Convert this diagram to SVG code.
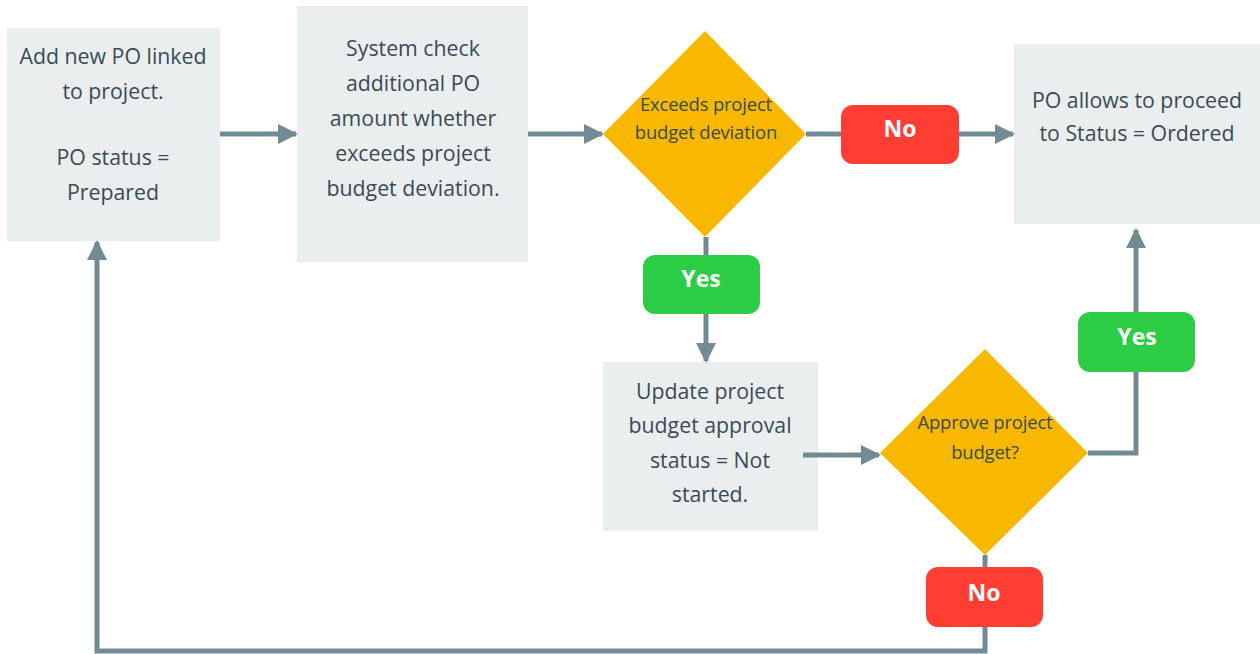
<svg xmlns="http://www.w3.org/2000/svg" width="1260" height="654" viewBox="0 0 1260 654">
<defs>
<marker id="ah" viewBox="0 0 10 10" refX="9" refY="5" markerWidth="4" markerHeight="4" orient="auto" markerUnits="strokeWidth">
<path d="M0,0 L10,5 L0,10 z" fill="#718a93"/>
</marker>
<style>
.box{fill:#eaeeef}
.dia{fill:#f8b800}
.no{fill:#ff3e33}
.yes{fill:#2ccd45}
.t{font-family:"Open Sans","Liberation Sans",sans-serif;font-size:21.3px;fill:#3b4b53;text-anchor:middle;dominant-baseline:central}
.dt{font-family:"Open Sans","Liberation Sans",sans-serif;font-size:18.5px;fill:#3b4b53;text-anchor:middle;dominant-baseline:central;letter-spacing:-0.2px}
.pt{font-family:"Open Sans","Liberation Sans",sans-serif;font-size:23px;font-weight:bold;fill:#ffffff;text-anchor:middle;dominant-baseline:central}
.c{fill:none;stroke:#718a93;stroke-width:5}
</style>
</defs>
<rect width="1260" height="654" fill="#ffffff"/>
<g id="n1">
<rect class="box" x="7" y="28" width="213" height="213"/>
<text class="t" x="113" y="55">Add new PO linked</text>
<text class="t" x="113" y="90">to project.</text>
<text class="t" x="113" y="156">PO status =</text>
<text class="t" x="113" y="191">Prepared</text>
</g>
<g id="n2">
<rect class="box" x="297" y="6" width="231" height="256"/>
<text class="t" x="413" y="47">System check</text>
<text class="t" x="413" y="82">additional PO</text>
<text class="t" x="413" y="117">amount whether</text>
<text class="t" x="413" y="152">exceeds project</text>
<text class="t" x="413" y="187">budget deviation.</text>
</g>
<g id="d1">
<polygon class="dia" points="705,31 806,134 705,237 603,134"/>
<text class="dt" x="706" y="103">Exceeds project</text>
<text class="dt" x="706" y="131">budget deviation</text>
</g>
<g id="no1">
<rect class="no" x="841" y="105" width="118" height="59" rx="12"/>
<text class="pt" x="900" y="128">No</text>
</g>
<g id="n3">
<rect class="box" x="1014" y="44" width="246" height="180"/>
<text class="t" x="1137" y="99">PO allows to proceed</text>
<text class="t" x="1137" y="132">to Status = Ordered</text>
</g>
<g id="yes1">
<rect class="yes" x="643" y="255" width="117" height="59" rx="12"/>
<text class="pt" x="701" y="278">Yes</text>
</g>
<g id="n4">
<rect class="box" x="603" y="362" width="215" height="169"/>
<text class="t" x="710" y="390">Update project</text>
<text class="t" x="710" y="424">budget approval</text>
<text class="t" x="710" y="459">status = Not</text>
<text class="t" x="710" y="493">started.</text>
</g>
<g id="d2">
<polygon class="dia" points="985,349 1088,453 985,555 880,453"/>
<text class="dt" x="985" y="421">Approve project</text>
<text class="dt" x="985" y="451">budget?</text>
</g>
<g id="yes2">
<rect class="yes" x="1078" y="312" width="117" height="60" rx="12"/>
<text class="pt" x="1137" y="336">Yes</text>
</g>
<g id="no2">
<rect class="no" x="926" y="567" width="117" height="60" rx="12"/>
<text class="pt" x="984" y="592">No</text>
</g>
<g id="connectors">
<path class="c" d="M220,134 H296" marker-end="url(#ah)"/>
<path class="c" d="M528,134 H602" marker-end="url(#ah)"/>
<path class="c" d="M806,134 H841"/>
<path class="c" d="M959,134 H1013" marker-end="url(#ah)"/>
<path class="c" d="M706,237 V255"/>
<path class="c" d="M706,314 V361" marker-end="url(#ah)"/>
<path class="c" d="M803,455 H879" marker-end="url(#ah)"/>
<path class="c" d="M1088,453 H1136 V372"/>
<path class="c" d="M1136,312 V230" marker-end="url(#ah)"/>
<path class="c" d="M985,555 V567"/>
<path class="c" d="M985,627 V651 H97 V242" marker-end="url(#ah)"/>
</g>
</svg>
